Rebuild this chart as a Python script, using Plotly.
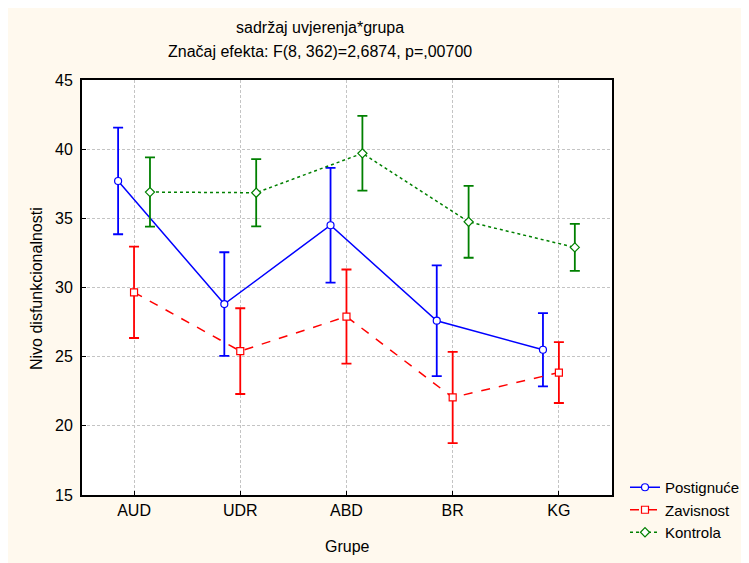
import plotly.graph_objects as go

categories = ["AUD", "UDR", "ABD", "BR", "KG"]

postignuce_mean = [37.7, 28.8, 34.5, 27.6, 25.5]
postignuce_err = [3.85, 3.75, 4.15, 4.0, 2.65]

zavisnost_mean = [29.65, 25.4, 27.9, 22.05, 23.85]
zavisnost_err = [3.3, 3.1, 3.4, 3.3, 2.2]

kontrola_mean = [36.9, 36.85, 39.7, 34.75, 32.9]
kontrola_err = [2.5, 2.43, 2.7, 2.6, 1.7]

title_line1 = "sadržaj uvjerenja*grupa"
title_line2 = "Značaj efekta: F(8, 362)=2,6874, p=,00700"
y_title = "Nivo disfunkcionalnosti"
x_title = "Grupe"

FONT = "Liberation Sans, Arial, sans-serif"
CREAM = "#FFF9EE"

series = [
    ("Postignuće", postignuce_mean, postignuce_err, "#0000FF", "solid", "circle"),
    ("Zavisnost", zavisnost_mean, zavisnost_err, "#FF0000", "dash", "square"),
    ("Kontrola", kontrola_mean, kontrola_err, "#008000", "dot", "diamond"),
]

fig = go.Figure()
for name, mean, err, color, dash, sym in series:
    fig.add_trace(go.Scatter(
        x=categories, y=mean, name=name, mode="lines+markers",
        offsetgroup=name,
        line=dict(color=color, width=1.5, dash=dash),
        marker=dict(symbol=sym, size=7, color="white", line=dict(color=color, width=1.2)),
        error_y=dict(type="data", array=err, visible=True, color=color, thickness=1.8, width=5),
    ))

# page is offset by the 8px body margin of the html page
OFF = 8
W, H = 741, 555
L, T = 82 - OFF, 80 - OFF
R = W - (612 - OFF)
B = H - (495 - OFF)
pw, ph = W - L - R, H - T - B

def px(x):
    # screen pixel -> paper coord
    return (x - OFF - L) / pw

def py(y):
    return (H - B - (y - OFF)) / ph

fig.update_layout(
    width=W, height=H,
    margin=dict(l=L, r=R, t=T, b=B, pad=0, autoexpand=False),
    paper_bgcolor=CREAM, plot_bgcolor="white",
    scattermode="group", scattergap=0.55,
    font=dict(family=FONT, size=16, color="black"),
    showlegend=True,
    legend=dict(x=px(625), y=py(471), xanchor="left", yanchor="top",
                bgcolor="rgba(0,0,0,0)", font=dict(size=15), tracegroupgap=0,
                itemwidth=30),
    xaxis=dict(type="category", categoryorder="array", categoryarray=categories,
               range=[-0.49, 4.5], showgrid=True, gridcolor="#C4C4C4", griddash="3px,2px",
               gridwidth=1, showline=True, linecolor="black", linewidth=2, mirror=True,
               ticks="inside", ticklen=4, tickcolor="black", zeroline=False,
               tickfont=dict(size=16)),
    yaxis=dict(range=[15, 45], dtick=5, showgrid=True, gridcolor="#C4C4C4",
               griddash="3px,2px", gridwidth=1, showline=True, linecolor="black",
               linewidth=2, mirror=True, ticks="inside", ticklen=4, tickcolor="black",
               zeroline=False, tickfont=dict(size=16), ticklabelstandoff=4),
    annotations=[
        dict(text=title_line1, x=px(320), y=py(27), xref="paper", yref="paper",
             showarrow=False, xanchor="center", yanchor="middle", font=dict(size=16)),
        dict(text=title_line2, x=px(320), y=py(52), xref="paper", yref="paper",
             showarrow=False, xanchor="center", yanchor="middle", font=dict(size=16)),
        dict(text=y_title, x=px(36), y=py(289), xref="paper", yref="paper",
             showarrow=False, xanchor="center", yanchor="middle", textangle=-90,
             font=dict(size=16)),
        dict(text=x_title, x=px(347), y=py(546), xref="paper", yref="paper",
             showarrow=False, xanchor="center", yanchor="middle", font=dict(size=16)),
    ],
)

fig.write_html("out.html")
